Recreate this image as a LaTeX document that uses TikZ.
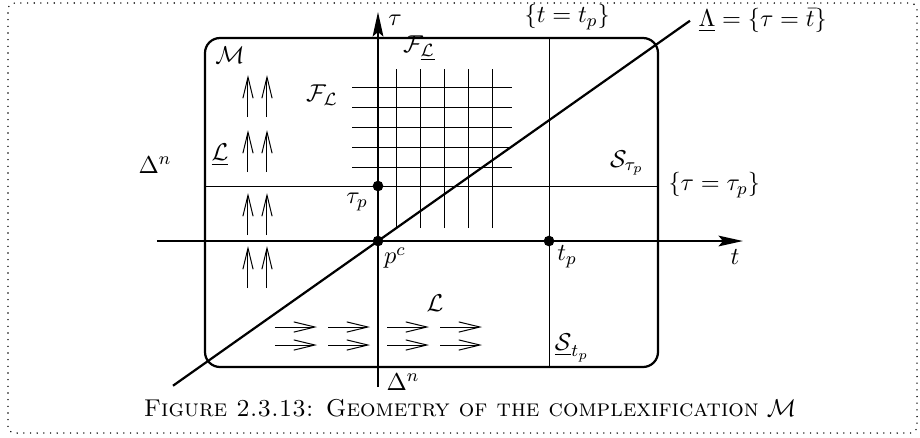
\documentclass[tikz,border=0pt,11pt]{standalone}
\usepackage{amsmath}
\usepackage{tikz}
\usetikzlibrary{arrows.meta}

\begin{document}
\begin{tikzpicture}[x=18pt,y=18pt,
        axis/.style={line width=1pt,-{Stealth[length=11pt,width=4.8pt,inset=2pt]}},
        bold/.style={line width=1pt},
        leaf/.style={line width=0.45pt},
        flow/.style={line width=0.45pt,-{Straight Barb[length=9.5pt,width=4.6pt,line width=0.45pt]}},
        dot/.style={circle,fill,inner sep=0pt,minimum size=4.8pt}]
        \useasboundingbox (-9.45,-4.9) rectangle (13.55,6.025);
        \draw[line width=0.7pt,line cap=round,dash pattern=on 0pt off 3pt,rounded corners=3pt] (-9.25,-4.8) rectangle (13.475,5.95);

            \coordinate (pc) at (0,0);
            \coordinate (taup) at (0,1.375);
            \coordinate (tp) at (4.275,0);
            \coordinate (sw) at (-4.325,-3.15);
            \coordinate (ne) at (7.0,5.075);
            \coordinate (tstart) at (-5.525,0);
            \coordinate (tend) at (9.125,0);
            \coordinate (taustart) at (0,-3.65);
            \coordinate (tauend) at (0,5.725);
            \coordinate (lamlo) at (-5.125,-3.618);
            \coordinate (lamhi) at (7.8,5.507);

            \draw[bold,rounded corners=6.75pt] (sw) rectangle (ne);

            \foreach \y in {1.85,2.35,...,3.9}
                \draw[leaf] (-0.65,\y) -- (3.35,\y);
            \foreach \x in {0.45,1.05,...,2.9}
                \draw[leaf] (\x,0.325) -- (\x,4.3);

            \draw[leaf] (sw |- taup) -- (ne |- taup);
            \draw[leaf] (tp |- sw) -- (tp |- ne);

            \foreach \x in {-3.25,-2.775}
                \foreach \y in {-1.175,0.15,1.725,3.1}
                    \draw[flow] (\x,\y) -- ++(0,1.05);
            \foreach \y in {-2.15,-2.6}
                \foreach \x in {-2.575,-1.25,0.225,1.55}
                    \draw[flow] (\x,\y) -- ++(1.05,0);

            \draw[axis] (tstart) -- (tend);
            \draw[axis] (taustart) -- (tauend);
            \draw[bold] (lamlo) -- (lamhi);

            \node[dot] (pcdot) at (pc) {};
            \node[dot] (taupdot) at (taup) {};
            \node[dot] (tpdot) at (tp) {};

            \node (taulabel) at (0.425,5.525) {$\tau$};
            \node (tlabel) at (8.925,-0.4) {$t$};
            \node (pclabel) at (0.425,-0.425) {$p^c$};
            \node (tauplabel) at (-0.525,0.975) {$\tau_p$};
            \node (tplabel) at (4.725,-0.4) {$t_p$};
            \node[anchor=west] (levtau) at (7.05,1.4) {$\{\tau=\tau_p\}$};
            \node (levt) at (4.73,5.6) {$\{t=t_p\}$};
            \node[anchor=west] (lamlabel) at (lamhi) {$\underline{\Lambda}=\{\tau=\bar{t}\}$};
            \node (fol) at (-1.4,3.65) {$\mathcal{F}_{\mathcal{L}}$};
            \node (folbar) at (1.025,4.825) {$\mathcal{F}_{\underline{\mathcal{L}}}$};
            \node (mlabel) at (-3.7,4.65) {$\mathcal{M}$};
            \node (lbar) at (-3.95,2.15) {$\underline{\mathcal{L}}$};
            \node (deltaleft) at (-5.575,1.9) {$\Delta^n$};
            \node (deltabottom) at (0.625,-3.525) {$\Delta^n$};
            \node (llabel) at (1.425,-1.55) {$\mathcal{L}$};
            \node (staup) at (6.225,1.95) {$\mathcal{S}_{\tau_p}$};
            \node (stp) at (4.85,-2.675) {$\underline{\mathcal{S}}_{t_p}$};
            \node (caption) at (2.3,-4.175) {\textsc{Figure 2.3.13: Geometry of the complexification} $\mathcal{M}$};
\end{tikzpicture}
\end{document}
